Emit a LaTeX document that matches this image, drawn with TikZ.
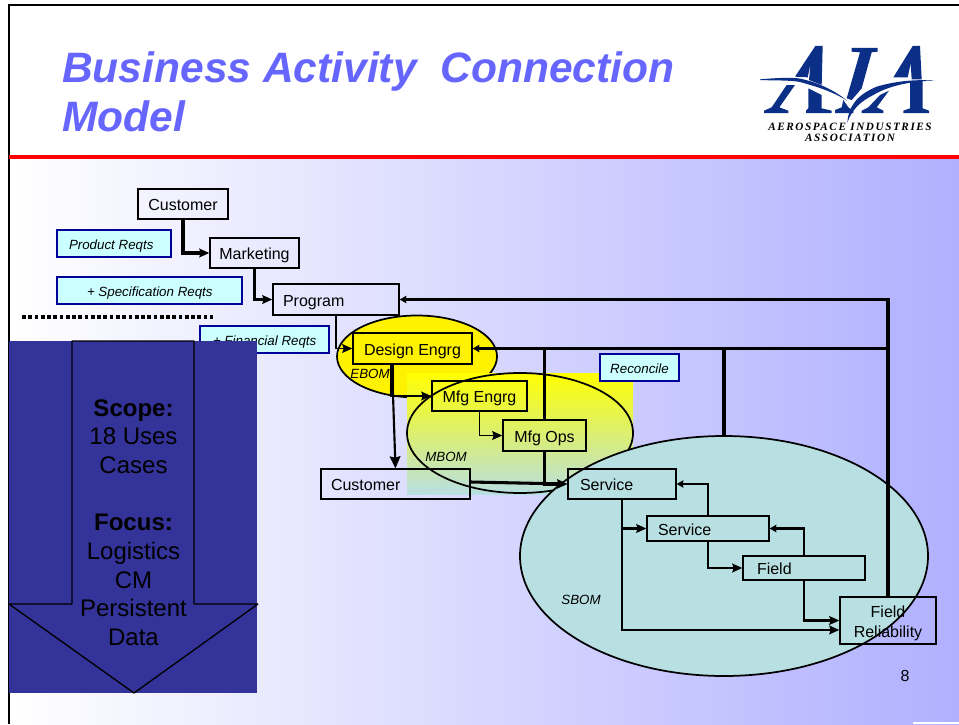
\documentclass[tikz,border=0pt]{standalone}
\usepackage{fontspec}
\setmainfont{Liberation Sans}
\newfontfamily\logofont[LetterSpace=14]{Liberation Serif}
\usetikzlibrary{arrows.meta,shapes.geometric}
\definecolor{titleblue}{HTML}{6666FF}
\definecolor{bgblue}{HTML}{B0B0FF}
\definecolor{seafoam}{HTML}{B8DFE2}
\definecolor{navyfill}{HTML}{333399}
\definecolor{notefill}{HTML}{CCFFFF}
\definecolor{notedraw}{HTML}{000099}
\definecolor{logoblue}{HTML}{0B2F87}
\tikzset{
  boxstyle/.style={draw=black,line width=1pt,inner sep=0pt,font=\fontsize{12}{15}\selectfont},
  oneline/.style={text height=10pt,text depth=0pt},
  notestyle/.style={draw=notedraw,fill=notefill,line width=1pt,inner sep=0pt,text height=9.2pt,text depth=0pt,font=\fontsize{10}{12}\selectfont\itshape},
  bomlabel/.style={inner sep=0pt,font=\fontsize{10}{12}\selectfont\itshape},
  bomell/.style={ellipse,draw=black,line width=1.3pt,inner sep=0pt},
  thick link/.style={draw=black,line width=2.3pt,-{Stealth[length=7.5pt,width=6.5pt,inset=1pt]}},
  back link/.style={draw=black,line width=2.3pt,-{Stealth[length=5pt,width=5.5pt,inset=0.5pt]}},
  thin link/.style={draw=black,line width=1.3pt,-{Stealth[length=7.5pt,width=6.5pt,inset=1pt]}},
  plain link/.style={draw=black,line width=2.5pt},
  logoshape/.style={fill=logoblue,draw=none},
}
% centred box: style, name, x0,y0,x1,y1, text
\newcommand{\cbx}[7]{%
  \pgfmathsetmacro{\bxw}{(#5-#3)*0.75}\pgfmathsetmacro{\bxh}{(#6-#4)*0.75}%
  \node[#1,minimum width=\bxw pt,minimum height=\bxh pt,align=center] (#2) at ({(#3+#5)/2},{(#4+#6)/2}) {#7};}
% box with left-aligned text: style, name, x0,y0,x1,y1, inset px, text
\newcommand{\lbx}[8]{%
  \pgfmathsetmacro{\bxw}{(#5-#3)*0.75}\pgfmathsetmacro{\bxh}{(#6-#4)*0.75}\pgfmathsetmacro{\bxi}{#7*0.75}%
  \node[#1,minimum width=\bxw pt,minimum height=\bxh pt] (#2) at ({(#3+#5)/2},{(#4+#6)/2}) {\makebox[\bxw pt][l]{\hspace*{\bxi pt}#8}};}
\begin{document}
\begin{tikzpicture}[x=0.75pt,y=-0.75pt]
\useasboundingbox (0,0) rectangle (959,724);
\fill[white] (0,0) rectangle (959,724);
% slide
\shade[left color=white,right color=bgblue,draw=none] (9,159) rectangle (959,724);
\fill[white] (913,722) rectangle (959,724);
\draw[black,line width=1.5pt] (8.5,724) -- (8.5,5.5) -- (959,5.5);
\fill[red] (9,155) rectangle (959,159);
% title
\node[anchor=base west,inner sep=0pt,text=titleblue,font=\fontsize{31.9}{36}\selectfont\bfseries\itshape] (title1) at (62,82) {Business Activity\ \ Connection};
\node[anchor=base west,inner sep=0pt,text=titleblue,font=\fontsize{31.9}{36}\selectfont\bfseries\itshape] (title2) at (62,131) {Model};
% logo (coordinates from a 3x crop at 740,20)
\begin{scope}[shift={(740,20)},x=0.25pt,y=-0.25pt]
 \fill[logoshape] (248,78) -- (226,78) -- (165,170) -- (203,172) -- (212,130) -- (207,180) -- (245,195) -- cycle;
 \fill[logoshape] (205,205) -- (245,225) -- (245,265) -- (275,272) -- (275,279) -- (198,279) -- (198,272) -- (205,265) -- cycle;
 \fill[logoshape] (140,195) -- (165,195) -- (118,262) -- (145,272) -- (145,279) -- (72,279) -- (72,272) -- (95,262) -- cycle;
 \fill[logoshape] (335,84) -- (413,84) -- (413,95) -- (395,97) -- (365,205) -- (335,240) -- (320,235) -- (360,97) -- (335,95) -- cycle;
 \fill[logoshape] (285,270) -- (305,262) -- (310,240) -- (325,262) -- (340,272) -- (340,279) -- (285,279) -- cycle;
 \fill[logoshape] (60,178) .. controls (130,172) and (170,172) .. (190,178) .. controls (240,190) and (290,215) .. (322,243) .. controls (280,215) and (230,200) .. (180,186) .. controls (150,180) and (100,182) .. (60,180) -- cycle;
 \fill[logoshape] (322,308) .. controls (325,260) and (350,225) .. (410,200) .. controls (470,182) and (530,178) .. (585,182) .. controls (520,183) and (450,195) .. (400,225) .. controls (360,245) and (335,270) .. (322,308) -- cycle;
 \fill[logoshape] (540,78) -- (518,78) -- (460,172) -- (503,172) -- (512,130) -- (515,178) -- (545,178) -- cycle;
 \fill[logoshape] (510,185) -- (548,180) -- (548,265) -- (567,272) -- (567,279) -- (490,279) -- (490,272) -- (510,265) -- cycle;
 \fill[logoshape] (420,225) -- (447,212) -- (410,262) -- (430,272) -- (430,279) -- (365,279) -- (365,272) -- (385,262) -- cycle;
\end{scope}
\node[inner sep=0pt,font=\fontsize{8.4}{9}\selectfont\logofont\bfseries\itshape] (logo1) at (850,127) {AEROSPACE INDUSTRIES};
\node[inner sep=0pt,font=\fontsize{8.4}{9}\selectfont\logofont\bfseries\itshape] (logo2) at (850,137.5) {ASSOCIATION};
% note under the arrow panel
\lbx{notestyle}{nfin}{200}{326}{329}{353}{13}{+ Financial Reqts}
% BOM regions
\node[bomell,fill=yellow,minimum width=120pt,minimum height=61.5pt] (ebomreg) at (417,356.5) {};
\shade[top color=yellow,bottom color=seafoam,draw=none] (407,373) rectangle (633,494);
\node[bomell,minimum width=169.5pt,minimum height=90pt] (mbomreg) at (520,433) {};
\coordinate (v724top) at (724,348);
\coordinate (v724end) at (724,445);
\draw[plain link] (v724top) -- (v724end);
\node[bomell,fill=seafoam,minimum width=306pt,minimum height=180pt] (sbomreg) at (724,556) {};
% boxes
\cbx{boxstyle,oneline}{cust}{138}{189}{228}{219}{Customer}
\cbx{boxstyle,oneline}{mkt}{210}{238}{299}{268}{Marketing}
\lbx{boxstyle,oneline}{prog}{273}{284}{399}{315}{10}{Program}
\cbx{boxstyle,oneline}{des}{353}{333}{472}{364}{Design Engrg}
\cbx{boxstyle,oneline}{mfge}{432}{381}{527}{411}{Mfg Engrg}
\cbx{boxstyle,oneline}{mfgo}{503}{420}{586}{451}{Mfg Ops}
\lbx{boxstyle,oneline}{cs}{321}{469}{470}{499}{10}{Customer}
\lbx{boxstyle,oneline}{svca}{568}{469}{676}{499}{12}{Service}
\lbx{boxstyle,oneline}{svcb}{647}{516}{769}{541}{11}{Service}
\lbx{boxstyle,oneline}{fld}{743}{556}{865}{580}{14}{Field}
\cbx{boxstyle}{fr}{840}{597}{936}{644}{\rule{0pt}{12.4pt}Field\\Reliability}
% notes
\lbx{notestyle}{nprod}{57}{230}{171}{257}{12}{Product Reqts}
\lbx{notestyle}{nspec}{57}{277}{242}{304}{30}{+ Specification Reqts}
\cbx{notestyle}{nrec}{600}{354}{679}{381}{Reconcile}
% BOM labels
\node[bomlabel] (lebom) at (370,374) {EBOM};
\node[bomlabel] (lmbom) at (446,457) {MBOM};
\node[bomlabel] (lsbom) at (581,600) {SBOM};
% connectors
\draw[thick link] (cust.south) |- (mkt.west);
\draw[thick link] (mkt.south) |- (prog.west);
\draw[thin link] (prog.south) |- (des.west);
\draw[plain link] ([xshift=-15.4pt]des.south) -- ([xshift=-15.4pt,yshift=-24pt]des.south);
\draw[thin link] ([xshift=-15.4pt]des.south) |- (mfge.west);
\draw[thin link,line width=1.6pt,-{Stealth[length=9pt,width=8pt,inset=1pt]}] ([xshift=-15.4pt]des.south) -- (cs.north);
\draw[thin link] (mfge.south) |- (mfgo.west);
\draw[plain link] (mfgo.north) -- (mfgo.north |- des.east);
\draw[thick link] (mfgo.south) |- (svca.west);
\draw[thick link] ([yshift=1.5pt]cs.east) -- (svca.west);
\draw[back link] (fr.north) |- (prog.east);
\draw[back link,line width=2.8pt] (fr.north |- des.east) -- (des.east);
\draw[thick link,line width=2pt] (svca.south) |- (svcb.west);
\draw[back link,line width=2pt] (svcb.north) |- (svca.east);
\draw[thick link,line width=1.9pt] (svcb.south) |- (fld.west);
\draw[back link,line width=1.8pt] (fld.north) |- (svcb.east);
\draw[thin link,line width=1.8pt] (fld.south) |- (fr.west);
\draw[thin link,line width=2pt] (svca.south) |- ([yshift=-7.1pt]fr.west);
% dotted rule
\coordinate (dotsl) at (22,317);
\coordinate (dotsr) at (213,317);
\draw[black,line width=2.6pt,dash pattern=on 2.8pt off 1.9pt] (dotsl) -- (dotsr);
% arrow panel
\fill[navyfill] (9,341) rectangle (257,693);
\draw[black,line width=1pt,line join=bevel,fill=navyfill] (72,341) -- (194,341) -- (194,604) -- (258,604) -- (134,693) -- (9,604) -- (72,604) -- cycle;
\node[anchor=north,align=center,inner sep=0pt,font=\fontsize{18}{21.5}\selectfont] (panel) at (133.5,399) {\textbf{Scope:}\\18 Uses\hspace{3pt}\\Cases\\[21.5pt]\textbf{Focus:}\\Logistics\\CM\\Persistent\\Data};
% page number
\node[inner sep=0pt,font=\fontsize{12}{14}\selectfont] (pageno) at (905,676) {8};
\end{tikzpicture}
\end{document}
